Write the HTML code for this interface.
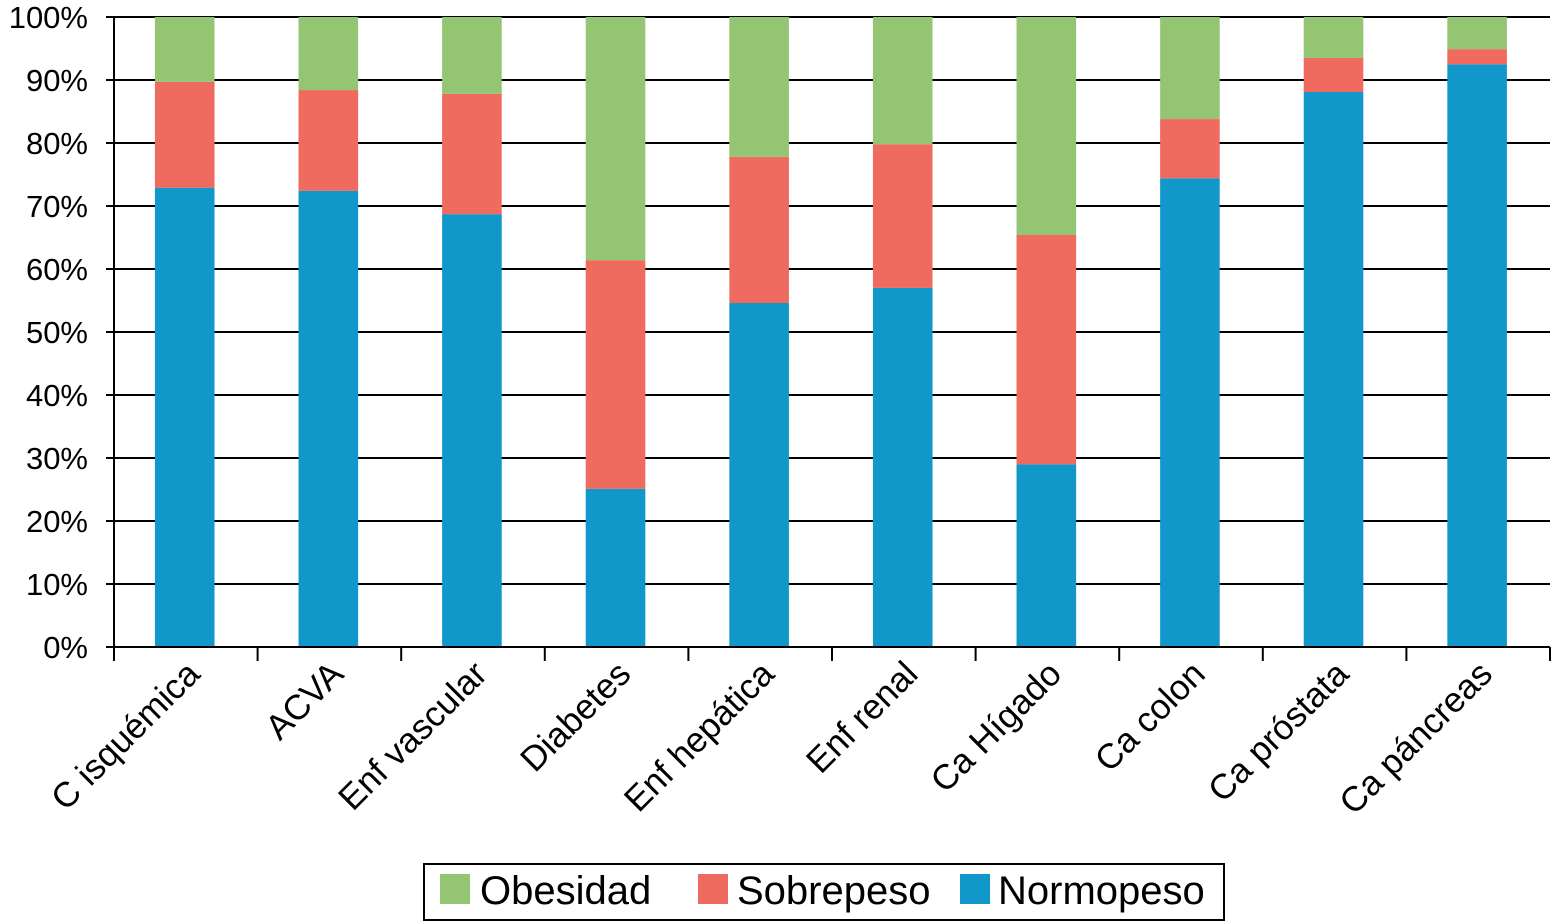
<!DOCTYPE html>
<html><head><meta charset="utf-8"><style>
body{margin:0;background:#fff;}
svg{display:block;font-family:"Liberation Sans",Arial,sans-serif;}
</style></head><body>
<svg id="chart" width="1552" height="924" viewBox="0 0 1552 924" xmlns="http://www.w3.org/2000/svg">
<g id="grid"></g><g id="bars"></g><g id="axes"></g>
<g>
<rect x="424" y="864" width="800" height="56" fill="#fff" stroke="#000" stroke-width="2"/>
<rect x="440" y="874" width="30" height="30" fill="#93c572"/>
<text x="480" y="904" font-size="40">Obesidad</text>
<rect x="698" y="874" width="30" height="30" fill="#ef6a5f"/>
<text x="737" y="904" font-size="40">Sobrepeso</text>
<rect x="960" y="874" width="30" height="30" fill="#1197c9"/>
<text x="998" y="904" font-size="40">Normopeso</text>
</g>
</svg>
<script>
const categories=["C isquémica","ACVA","Enf vascular","Diabetes","Enf hepática","Enf renal","Ca Hígado","Ca colon","Ca próstata","Ca páncreas"];
const normopeso=[72.9,72.4,68.7,25.1,54.6,57.0,29.0,74.4,88.1,92.5];
const sobrepeso=[16.8,16.0,19.1,36.3,23.2,22.8,36.4,9.4,5.4,2.4];
const obesidad=[10.3,11.6,12.2,38.6,22.2,20.2,34.6,16.2,6.5,5.1];
const yTicks=[0,10,20,30,40,50,60,70,80,90,100];
const NS="http://www.w3.org/2000/svg";
const X0=114,X1=1550,Y0=647,Y1=17;
const band=(X1-X0)/categories.length;
const y=v=>Y0-(v/100)*(Y0-Y1);
const bx=i=>X0+i*band+band*0.285;
const bw=band*0.415;
function mk(t,a,p){const e=document.createElementNS(NS,t);for(const k in a)e.setAttribute(k,a[k]);p.appendChild(e);return e;}
const grid=document.getElementById('grid'),bars=document.getElementById('bars'),axes=document.getElementById('axes');
yTicks.forEach(t=>{
 const l=mk('line',{x1:X0-8,x2:X1,y1:y(t),y2:y(t),stroke:'#000','stroke-width':2},grid);
 
 
 const tx=mk('text',{x:88,y:y(t)+11,'font-size':31,'text-anchor':'end'},axes);
 tx.textContent=t+'%';
 
 
});
const series=[[normopeso,'#1197c9','normopeso'],[sobrepeso,'#ef6a5f','sobrepeso'],[obesidad,'#93c572','obesidad']];
categories.forEach((c,i)=>{
 let base=0;
 series.forEach(([arr,col,nm])=>{
  const v=arr[i];
  const r=mk('rect',{x:bx(i),y:y(base+v),width:bw,height:y(base)-y(base+v),fill:col},bars);
  
  
  base+=v;
 });
 const cx=X0+i*band+band/2;
 const ax=cx+16, ay=676;
 const tx=mk('text',{x:ax,y:ay,'font-size':35,'text-anchor':'end',transform:`rotate(-45 ${ax} ${ay})`},axes);
 tx.textContent=c;
 
 
});
for(let i=0;i<=categories.length;i++){
 const xx=X0+i*band;
 const l=mk('line',{x1:xx,x2:xx,y1:Y0,y2:Y0+14,stroke:'#000','stroke-width':2},axes);
 
 
}
const ya=mk('line',{x1:X0,x2:X0,y1:Y1,y2:Y0,stroke:'#000','stroke-width':2},axes);


const xa=mk('line',{x1:X0,x2:X1,y1:Y0,y2:Y0,stroke:'#000','stroke-width':2},axes);


</script>
</body></html>
